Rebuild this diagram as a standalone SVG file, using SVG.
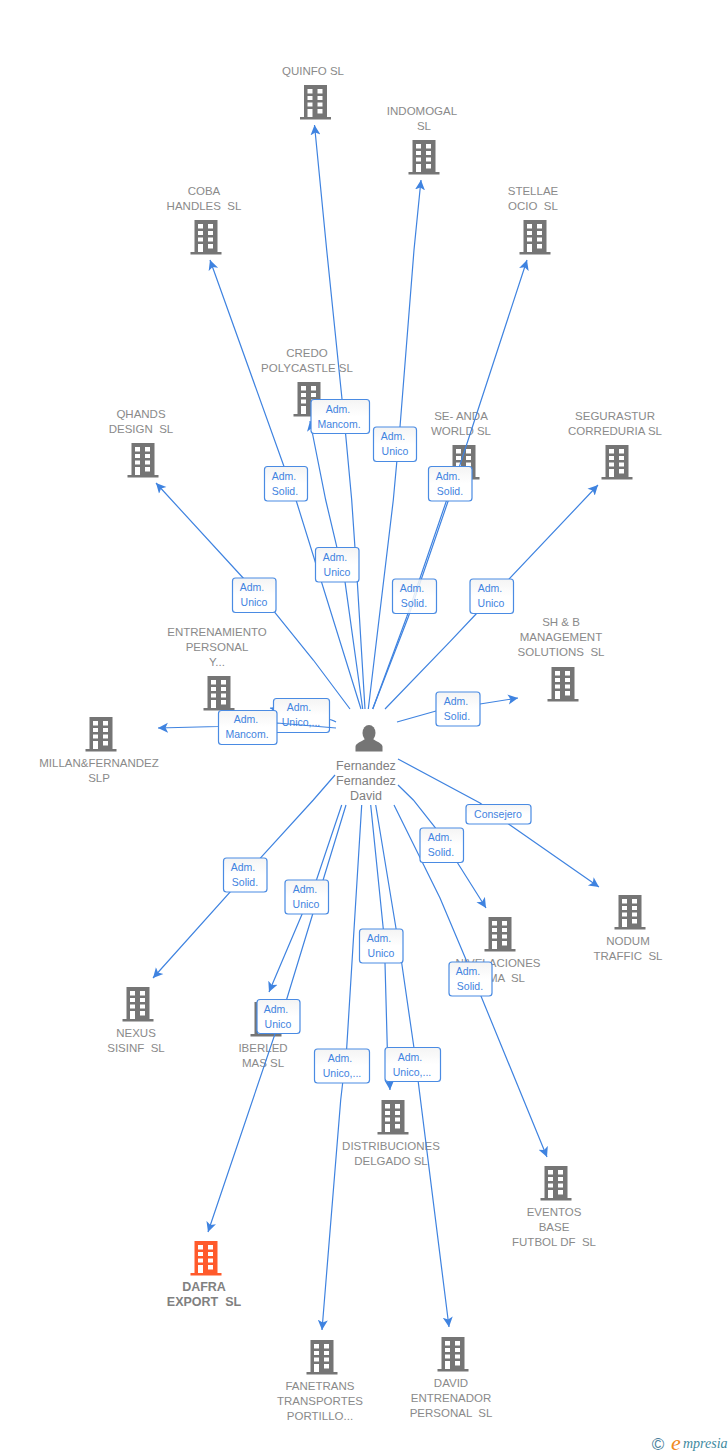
<svg xmlns="http://www.w3.org/2000/svg" width="728" height="1455" viewBox="0 0 728 1455">
<style>
text{font-family:"Liberation Sans",Arial,sans-serif;white-space:pre}
.n{font-size:11.5px;fill:#8a8a8a;text-anchor:middle}
.p{font-size:12.5px;fill:#808080;text-anchor:middle}
.b{font-size:12.5px;font-weight:bold;fill:#808080;text-anchor:middle}
.l{font-size:10.5px;fill:#3f83e0;text-anchor:middle}
.c{fill:none;stroke:#3f83e0;stroke-width:1.2}
.a{fill:none;stroke:#3f83e0;stroke-width:1.2;marker-end:url(#arrow)}
.box{fill:url(#boxfill);stroke:#4a8be3;stroke-width:1.2}
</style>
<defs>
<linearGradient id="boxfill" x1="0" y1="0" x2="0" y2="1"><stop offset="0" stop-color="#f4f4f4"/><stop offset="0.5" stop-color="#ffffff"/></linearGradient>
<marker id="arrow" markerUnits="userSpaceOnUse" markerWidth="12" markerHeight="12" refX="10" refY="5.5" orient="auto"><path d="M0 0.5L10 5.5L0 10.5L2.5 5.5Z" fill="#3f83e0"/></marker>
<path id="bld" fill-rule="evenodd" d="M-11.5 0H11.5V32H15.5V34.5H-15.5V32H-11.5ZM-8 4V8.5H-3V4ZM2 4V8.5H7V4ZM-8 11V15H-3V11ZM2 11V15H7V11ZM-8 17.500V21.500H-3V17.500ZM2 17.500V21.500H7V17.500ZM-8 24V32H-3V24ZM2 24V28.500H7V24Z"/>
</defs>
<g id="node-quinfo"><use href="#bld" x="315.500" y="85" fill="#757575"/><text class="n" x="313" y="75">QUINFO SL</text></g>
<g id="node-indomogal"><use href="#bld" x="424" y="140" fill="#757575"/><text class="n" x="422" y="115">INDOMOGAL</text><text class="n" x="424" y="130">SL</text></g>
<g id="node-coba"><use href="#bld" x="206" y="220" fill="#757575"/><text class="n" x="204" y="195">COBA</text><text class="n" x="204" y="210">HANDLES  SL</text></g>
<g id="node-stellae"><use href="#bld" x="535" y="220" fill="#757575"/><text class="n" x="533" y="195">STELLAE</text><text class="n" x="533" y="210">OCIO  SL</text></g>
<g id="node-credo"><use href="#bld" x="309" y="382" fill="#757575"/><text class="n" x="307" y="357">CREDO</text><text class="n" x="307" y="372">POLYCASTLE SL</text></g>
<g id="node-qhands"><use href="#bld" x="143" y="443" fill="#757575"/><text class="n" x="141" y="418">QHANDS</text><text class="n" x="141" y="433">DESIGN  SL</text></g>
<g id="node-seanda"><use href="#bld" x="464" y="445" fill="#757575"/><text class="n" x="461" y="420">SE- ANDA</text><text class="n" x="461" y="435">WORLD SL</text></g>
<g id="node-segurastur"><use href="#bld" x="617" y="445" fill="#757575"/><text class="n" x="615" y="420">SEGURASTUR</text><text class="n" x="615" y="435">CORREDURIA SL</text></g>
<g id="node-shb"><use href="#bld" x="563" y="667" fill="#757575"/><text class="n" x="561" y="626">SH &amp; B</text><text class="n" x="561" y="641">MANAGEMENT</text><text class="n" x="561" y="656">SOLUTIONS  SL</text></g>
<g id="node-entrenamiento"><use href="#bld" x="219" y="676" fill="#757575"/><text class="n" x="217" y="636">ENTRENAMIENTO</text><text class="n" x="217" y="651">PERSONAL</text><text class="n" x="217" y="666">Y...</text></g>
<g id="node-millan"><use href="#bld" x="101" y="717" fill="#757575"/><text class="n" x="99" y="767">MILLAN&amp;FERNANDEZ</text><text class="n" x="99" y="782">SLP</text></g>
<g id="node-nodum"><use href="#bld" x="630" y="895" fill="#757575"/><text class="n" x="628" y="945">NODUM</text><text class="n" x="628" y="960">TRAFFIC  SL</text></g>
<g id="node-nivelaciones"><use href="#bld" x="500" y="917" fill="#757575"/><text class="n" x="498" y="967">NIVELACIONES</text><text class="n" x="525" y="982" style="text-anchor:end">MA  SL</text></g>
<g id="node-nexus"><use href="#bld" x="138" y="987" fill="#757575"/><text class="n" x="136" y="1037">NEXUS</text><text class="n" x="136" y="1052">SISINF  SL</text></g>
<g id="node-iberled"><use href="#bld" x="266" y="1002" fill="#757575"/><text class="n" x="263" y="1052">IBERLED</text><text class="n" x="263" y="1067">MAS SL</text></g>
<g id="node-distribuciones"><use href="#bld" x="393" y="1100" fill="#757575"/><text class="n" x="391" y="1150">DISTRIBUCIONES</text><text class="n" x="391" y="1165">DELGADO SL</text></g>
<g id="node-eventos"><use href="#bld" x="556" y="1166" fill="#757575"/><text class="n" x="554" y="1216">EVENTOS</text><text class="n" x="554" y="1231">BASE</text><text class="n" x="554" y="1246">FUTBOL DF  SL</text></g>
<g id="node-dafra"><use href="#bld" x="206" y="1241" fill="#ff5a2b"/><text class="b" x="204" y="1291">DAFRA</text><text class="b" x="204" y="1306">EXPORT  SL</text></g>
<g id="node-fanetrans"><use href="#bld" x="322" y="1340" fill="#757575"/><text class="n" x="320" y="1390">FANETRANS</text><text class="n" x="320" y="1405">TRANSPORTES</text><text class="n" x="320" y="1420">PORTILLO...</text></g>
<g id="node-david"><use href="#bld" x="453" y="1337" fill="#757575"/><text class="n" x="451" y="1387">DAVID</text><text class="n" x="451" y="1402">ENTRENADOR</text><text class="n" x="451" y="1417">PERSONAL  SL</text></g>
<g id="node-person"><ellipse cx="369" cy="733" rx="6.500" ry="8" fill="#757575"/><path d="M355.500 751.500V746.500C356 743 361 742 365 739H373C377 742 382 743 382.500 746.500V751.500Z" fill="#757575"/><text class="p" x="366" y="770">Fernandez</text><text class="p" x="366" y="785">Fernandez</text><text class="p" x="366" y="800">David</text></g>
<g id="connectors">
<path class="a" d="M365 709L357.300 581.700L351.700 500L345.700 435L326.700 250L314.500 125"/>
<path class="a" d="M368.300 709L393.300 500L400 427L414 250L421 180"/>
<path class="a" d="M361 709L296 500L210 260"/>
<path class="a" d="M362.700 709L345 581.700L325.700 500L310 421"/>
<path class="a" d="M372.700 709L408.300 617L448.500 500L527 260"/>
<path class="c" d="M372.700 709L406.700 617L446.700 500L454 479"/>
<path class="a" d="M385 709L450 641.700L477 613L598 485"/>
<path class="a" d="M397 722L436 711L480 704L518 698"/>
<path class="a" d="M350 709L313.300 660L275 612.700L156 483"/>
<path class="a" d="M336 722Q330 718 301 715L270 708"/>
<path class="a" d="M335 775L313.300 800L261.700 856.700L153 978"/>
<path class="a" d="M341.700 805L316.700 879.300L301.700 915L269 992"/>
<path class="a" d="M346 805L286.700 999.300L208 1232"/>
<path class="a" d="M361.700 805L346.700 1048L340.700 1100L322 1330"/>
<path class="a" d="M370.700 805L383.300 929L385 963L387.300 1048L390 1090"/>
<path class="a" d="M375.700 805L401.700 963L414 1048L449 1327"/>
<path class="a" d="M394 805L440 898L467 962L547 1157"/>
<path class="a" d="M398 785L413.300 800L435 827.300L457 862L486 908"/>
<path class="a" d="M398 759L480 803L510 825L599 887"/>
</g>
<g id="label-unico-entrenamiento"><rect class="box" x="273.500" y="698.500" width="56" height="34" rx="3"/><text class="l" x="299" y="711">Adm.</text><text class="l" x="301" y="726">Unico,...</text></g>
<g id="connector-millan"><path class="a" d="M336 728L277 723L218 726.500L158 728"/></g>
<g id="labels">
<g><rect class="box" x="218.500" y="710.500" width="58.500" height="34" rx="3"/><text class="l" x="246" y="723">Adm.</text><text class="l" x="247" y="738">Mancom.</text></g>
<g><rect class="box" x="311" y="399.500" width="58.500" height="34" rx="3"/><text class="l" x="338" y="413">Adm.</text><text class="l" x="339" y="428">Mancom.</text></g>
<g><rect class="box" x="373.500" y="427" width="43" height="34.500" rx="3"/><text class="l" x="393" y="440">Adm.</text><text class="l" x="395" y="455">Unico</text></g>
<g><rect class="box" x="264.500" y="466.500" width="43" height="34.500" rx="3"/><text class="l" x="284" y="480">Adm.</text><text class="l" x="285" y="495">Solid.</text></g>
<g><rect class="box" x="428.500" y="466.500" width="43.500" height="34.500" rx="3"/><text class="l" x="448" y="480">Adm.</text><text class="l" x="450" y="495">Solid.</text></g>
<g><rect class="box" x="315.500" y="547.500" width="43.500" height="34.500" rx="3"/><text class="l" x="335" y="561">Adm.</text><text class="l" x="337" y="576">Unico</text></g>
<g><rect class="box" x="232.500" y="578" width="43.500" height="34.500" rx="3"/><text class="l" x="252" y="591">Adm.</text><text class="l" x="254" y="606">Unico</text></g>
<g><rect class="box" x="392.500" y="579" width="44" height="34.500" fill-opacity="0.85" rx="3"/><text class="l" x="412" y="592">Adm.</text><text class="l" x="414" y="607">Solid.</text></g>
<g><rect class="box" x="470" y="579" width="43.500" height="34.500" rx="3"/><text class="l" x="490" y="592">Adm.</text><text class="l" x="491" y="607">Unico</text></g>
<g><rect class="box" x="436" y="692" width="44" height="34" rx="3"/><text class="l" x="456" y="705">Adm.</text><text class="l" x="457" y="720">Solid.</text></g>
<g><rect class="box" x="466" y="804.500" width="65" height="19.500" rx="3"/><text class="l" x="498" y="818">Consejero</text></g>
<g><rect class="box" x="420" y="828" width="43.500" height="34.500" rx="3"/><text class="l" x="440" y="841">Adm.</text><text class="l" x="441" y="856">Solid.</text></g>
<g><rect class="box" x="223.500" y="858" width="43.500" height="34" rx="3"/><text class="l" x="243" y="871">Adm.</text><text class="l" x="245" y="886">Solid.</text></g>
<g><rect class="box" x="285" y="880" width="43.500" height="34" rx="3"/><text class="l" x="305" y="893">Adm.</text><text class="l" x="306" y="908">Unico</text></g>
<g><rect class="box" x="359.500" y="929" width="43.500" height="34" rx="3"/><text class="l" x="379" y="942">Adm.</text><text class="l" x="381" y="957">Unico</text></g>
<g><rect class="box" x="449" y="962" width="43" height="34" rx="3"/><text class="l" x="468" y="975">Adm.</text><text class="l" x="470" y="990">Solid.</text></g>
<g><rect class="box" x="257" y="999.500" width="43" height="34" rx="3"/><text class="l" x="276" y="1013">Adm.</text><text class="l" x="278" y="1028">Unico</text></g>
<g><rect class="box" x="314.500" y="1049" width="55" height="34" rx="3"/><text class="l" x="340" y="1062">Adm.</text><text class="l" x="342" y="1077">Unico,...</text></g>
<g><rect class="box" x="385" y="1047.500" width="55.500" height="34" rx="3"/><text class="l" x="410" y="1061">Adm.</text><text class="l" x="412" y="1076">Unico,...</text></g>
</g>
<g id="logo"><text x="658" y="1450" font-size="17" fill="#4a7f9c" text-anchor="middle">©</text><text x="671" y="1450" font-size="22" font-style="italic" fill="#f08a1d" style="font-family:'Liberation Serif',serif">e</text><text x="683" y="1448" font-size="14" font-style="italic" fill="#3f8aa0" style="font-family:'Liberation Serif',serif">mpresia</text></g>
</svg>
